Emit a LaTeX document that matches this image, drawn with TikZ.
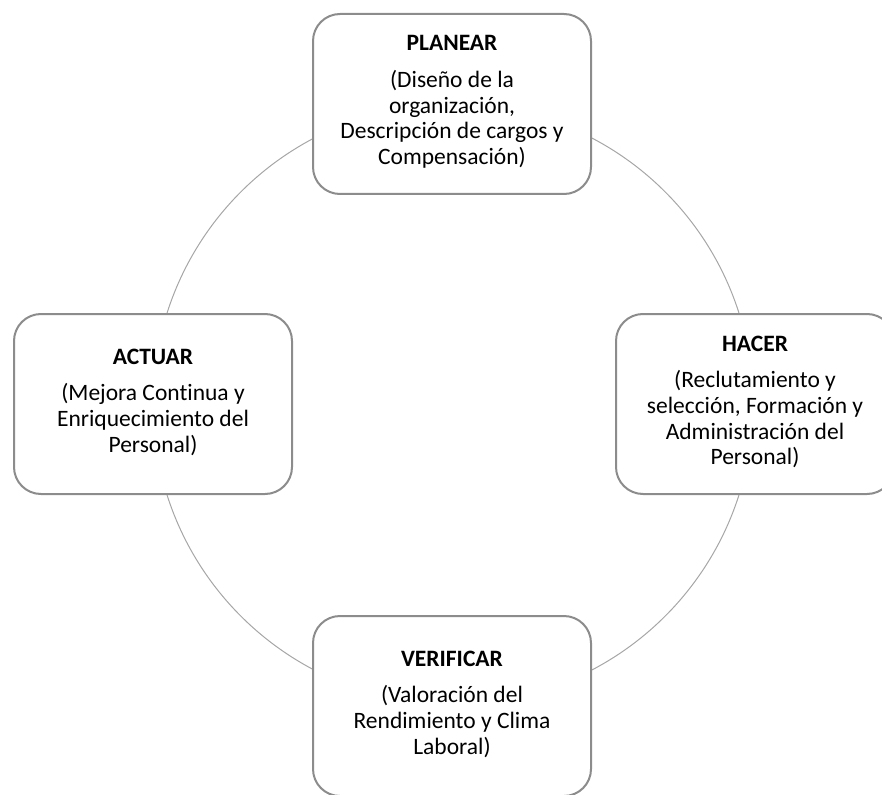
\documentclass[tikz,border=0pt]{standalone}
\usepackage{fontspec}
\setmainfont{Carlito}[Ligatures={NoCommon}]
\definecolor{boxgray}{HTML}{8C8C8C}
\definecolor{ringgray}{HTML}{A6A6A6}
\begin{document}
\begin{tikzpicture}[x=1pt,y=-1pt,
  pdcabox/.style={draw=boxgray, line width=2pt, rounded corners=27pt, fill=white,
    minimum width=278pt, minimum height=180pt, inner sep=0pt},
  pdcatext/.style={align=center, font=\fontsize{23.5}{25.7}\selectfont, text=black, inner sep=0pt}]
\useasboundingbox (0,0) rectangle (882,794);
\clip (0,0) rectangle (882,794);
\coordinate (c) at (453,404);
\draw[ringgray, line width=1pt] (c) circle (300pt);
\node[pdcabox] (planear) at (452,104) {};
\node[pdcabox] (hacer) at (755,404) {};
\node[pdcabox] (actuar) at (153,404) {};
\node[pdcabox] (verificar) at (452,706) {};
\node[pdcatext] (tplanear) at ([yshift=2pt]planear.center) {\textbf{PLANEAR}\\[11pt](Diseño de la\\organización,\\Descripción de cargos y\\Compensación)};
\node[pdcatext] (thacer) at ([yshift=2pt]hacer.center) {\textbf{HACER}\\[11pt](Reclutamiento y\\selección, Formación y\\Administración del\\Personal)};
\node[pdcatext] (tactuar) at ([yshift=2pt]actuar.center) {\textbf{ACTUAR}\\[11pt](Mejora Continua y\\Enriquecimiento del\\Personal)};
\node[pdcatext] (tverificar) at ([yshift=2pt]verificar.center) {\textbf{VERIFICAR}\\[11pt](Valoración del\\Rendimiento y Clima\\Laboral)};
\end{tikzpicture}
\end{document}
